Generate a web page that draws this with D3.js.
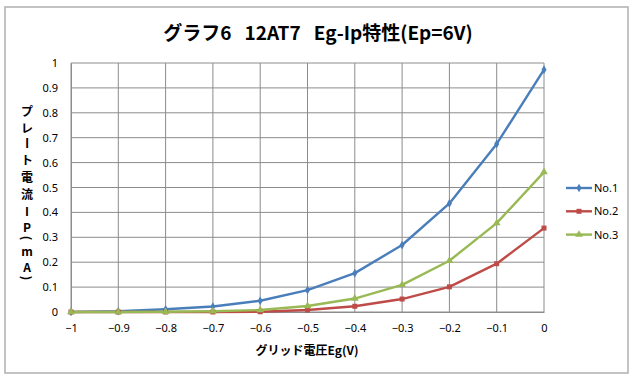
<!DOCTYPE html>
<html><head><meta charset="utf-8">
<script src="https://cdn.jsdelivr.net/npm/d3@7"></script>
<style>body{margin:0;background:#fff}svg{display:block}</style>
</head><body><svg id="c" width="638" height="381"></svg>
<script>
const xValues = [-1, -0.9, -0.8, -0.7, -0.6, -0.5, -0.4, -0.3, -0.2, -0.1, 0];
const no1 = [0, 0.003, 0.011, 0.022, 0.045, 0.088, 0.156, 0.269, 0.436, 0.675, 0.973];
const no2 = [0, 0, 0, 0, 0.001, 0.008, 0.023, 0.052, 0.101, 0.194, 0.337];
const no3 = [0, 0, 0.001, 0.003, 0.008, 0.024, 0.054, 0.109, 0.206, 0.357, 0.562];
const seriesNames = ["No.1", "No.2", "No.3"];
const xTicks = [-1, -0.9, -0.8, -0.7, -0.6, -0.5, -0.4, -0.3, -0.2, -0.1, 0];
const yTicks = [0, 0.1, 0.2, 0.3, 0.4, 0.5, 0.6, 0.7, 0.8, 0.9, 1];
const title = "グラフ6\u00a0\u00a0 12AT7\u00a0\u00a0 Eg-Ip特性(Ep=6V)";
const xTitle = "グリッド電圧Eg(V)";
const yTitleChars = ["プ","レ","ー","ト","電","流","I","P","(","m","A",")"];

const colors = ["#4A7EBB", "#BE4B48", "#98B954"];
const series = [no1, no2, no3];

const svg = d3.select("#c");
const font = "'Noto Sans','Noto Sans CJK JP',sans-serif";
svg.append("rect").attr("x",5).attr("y",7).attr("width",623).attr("height",366)
  .attr("fill","#fff").attr("stroke","#b4b4b4").attr("stroke-width",1.6);

const x = d3.scaleLinear().domain([-1,0]).range([71,544]);
const y = d3.scaleLinear().domain([0,1]).range([312,63]);

const g = svg.append("g");
g.selectAll("line.v").data(xTicks).join("line")
  .attr("x1",d=>x(d)).attr("x2",d=>x(d)).attr("y1",y(1)).attr("y2",y(0))
  .attr("stroke","#8c8c8c").attr("stroke-width",1);
g.selectAll("line.h").data(yTicks).join("line").attr("class","h")
  .attr("x1",x(-1)).attr("x2",x(0)).attr("y1",d=>y(d)).attr("y2",d=>y(d))
  .attr("stroke","#8c8c8c").attr("stroke-width",1);

const xa = svg.append("g").attr("transform",`translate(0,${y(0)})`)
  .call(d3.axisBottom(x).tickValues(xTicks).tickSize(0).tickPadding(12).tickFormat(d=>d3.format("")(d)));
xa.select(".domain").attr("stroke","#8c8c8c");
xa.selectAll("text").attr("font-family",font).attr("font-size",11).attr("fill","#000");
const ya = svg.append("g").attr("transform",`translate(${x(-1)},0)`)
  .call(d3.axisLeft(y).tickValues(yTicks).tickSize(0).tickPadding(13).tickFormat(d=>d3.format("")(d)));
ya.select(".domain").attr("stroke","#8c8c8c");
ya.selectAll("text").attr("font-family",font).attr("font-size",11).attr("fill","#000");

const line = d3.line().x((d,i)=>x(xValues[i])).y(d=>y(d));
const order = [0,1,2];
order.forEach(si=>{
  svg.append("path").datum(series[si]).attr("d",line).attr("fill","none")
    .attr("stroke",colors[si]).attr("stroke-width",2.4).attr("stroke-linejoin","round");
});
function marker(sel, si, cx, cy){
  if(si===0){
    sel.append("path").attr("d",d3.symbol(d3.symbolDiamond,22)()).attr("transform",`translate(${cx},${cy})`).attr("fill",colors[si]);
  } else if(si===1){
    sel.append("rect").attr("x",cx-2.5).attr("y",cy-2.5).attr("width",5).attr("height",5).attr("fill",colors[si]);
  } else {
    sel.append("path").attr("d",d3.symbol(d3.symbolTriangle,26)()).attr("transform",`translate(${cx},${cy})`).attr("fill",colors[si]);
  }
}
order.forEach(si=>{
  const mg = svg.append("g");
  series[si].forEach((v,i)=>marker(mg, si, x(xValues[i]), y(v)));
});

seriesNames.forEach((n,i)=>{
  const ly = 188 + i*23.3;
  svg.append("line").attr("x1",566).attr("x2",592).attr("y1",ly).attr("y2",ly)
    .attr("stroke",colors[i]).attr("stroke-width",2.4);
  marker(svg, i, 579, ly);
  svg.append("text").attr("x",594).attr("y",ly+4).text(n)
    .attr("font-family",font).attr("font-size",11).attr("fill","#000");
});

svg.append("text").attr("x",318).attr("y",40).attr("text-anchor","middle")
  .attr("font-family","'Noto Sans CJK JP',sans-serif").attr("font-weight","bold").attr("font-size",19)
  .attr("fill","#000").text(title);
svg.append("text").attr("x",307).attr("y",355).attr("text-anchor","middle")
  .attr("font-family","'Noto Sans CJK JP',sans-serif").attr("font-weight","bold").attr("font-size",12)
  .attr("fill","#000").text(xTitle);

const yPos = [110,127,143,159,176,193,210,226,238,250,266,278];
const rotated = {"ー":true,"(":true,")":true};
yTitleChars.forEach((c,i)=>{
  const t = svg.append("text").attr("font-family","'Noto Sans CJK JP',sans-serif").attr("font-weight","bold")
    .attr("font-size",12).attr("text-anchor","middle").attr("dominant-baseline","central")
    .attr("fill","#000").text(c);
  if(rotated[c]) t.attr("transform",`translate(27,${yPos[i]}) rotate(90)`);
  else t.attr("x",27).attr("y",yPos[i]);
});
</script></body></html>
